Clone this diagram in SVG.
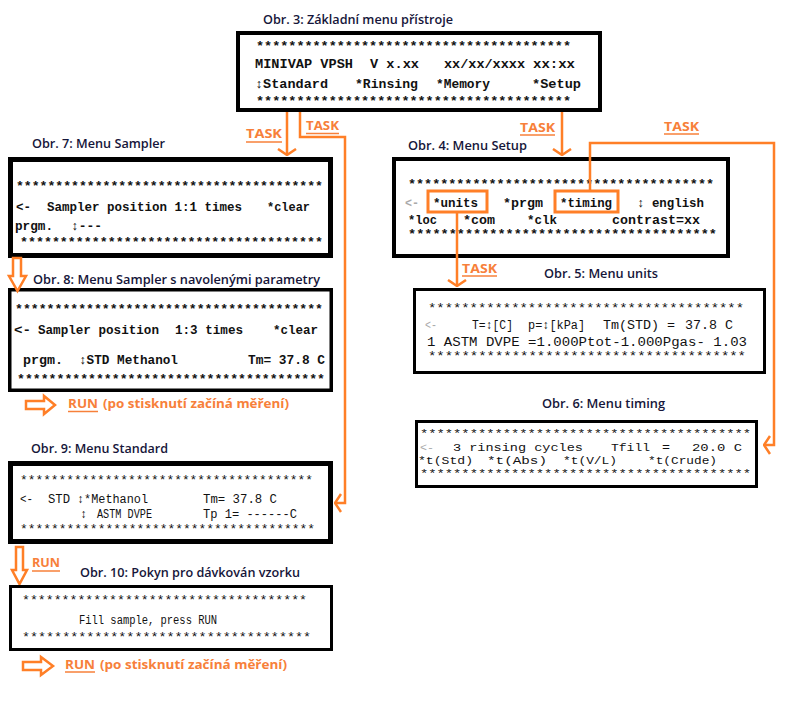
<svg xmlns="http://www.w3.org/2000/svg" width="790" height="701" viewBox="0 0 790 701">
<style>
.bg{fill:#fff}
.box{fill:#fff;stroke:#000}
.ttl{font-family:"Open Sans","Noto Sans",sans-serif;font-size:13px;font-weight:600;fill:#16163a}
.mb{font-family:"Liberation Mono","DejaVu Sans Mono",monospace;font-size:12.5px;font-weight:bold;fill:#111}
.mr{font-family:"Liberation Mono","DejaVu Sans Mono",monospace;font-size:12px;fill:#111}
.sm{font-size:11px}
.faint{fill:#aaa}
.ol{fill:none;stroke:#ff7f27;stroke-width:2.5}
.ob{fill:none;stroke:#ff7f27;stroke-width:3}
.hol{fill:#fff;stroke:#ff7f27;stroke-width:2.5;stroke-linejoin:miter}
.ot{font-family:"Open Sans","Noto Sans",sans-serif;font-size:13px;font-weight:bold;fill:#f7803a}
.ul{stroke:#f7803a;stroke-width:1.5}
</style>
<defs>
<marker id="v" viewBox="-7 -11 8 22" refX="0" refY="0" markerWidth="8" markerHeight="22" markerUnits="userSpaceOnUse" orient="auto">
<path d="M-6,-9 L0,0 L-6,9" fill="none" stroke="#ff7f27" stroke-width="2.5"/>
</marker>
</defs>
<rect class="bg" width="790" height="701"/>

<g id="obr3">
<text class="ttl" x="263" y="24" textLength="190" lengthAdjust="spacingAndGlyphs">Obr. 3: Základní menu přístroje</text>
<rect class="box" x="238" y="33" width="362" height="77" stroke-width="4"/>
<text class="mb" font-size="13" x="256" y="50" textLength="315" lengthAdjust="spacingAndGlyphs">***************************************</text>
<text class="mb" font-size="13" x="255" y="68" textLength="98" lengthAdjust="spacingAndGlyphs">MINIVAP VPSH</text>
<text class="mb" font-size="13" x="370" y="68" textLength="49" lengthAdjust="spacingAndGlyphs">V x.xx</text>
<text class="mb" font-size="13" x="444" y="68" textLength="81" lengthAdjust="spacingAndGlyphs">xx/xx/xxxx</text>
<text class="mb" font-size="13" x="533" y="68" textLength="42" lengthAdjust="spacingAndGlyphs">xx:xx</text>
<text class="mb" font-size="13" x="255" y="88" textLength="73" lengthAdjust="spacingAndGlyphs">↕Standard</text>
<text class="mb" font-size="13" x="355" y="88" textLength="63" lengthAdjust="spacingAndGlyphs">*Rinsing</text>
<text class="mb" font-size="13" x="436" y="88" textLength="54" lengthAdjust="spacingAndGlyphs">*Memory</text>
<text class="mb" font-size="13" x="532" y="88" textLength="49" lengthAdjust="spacingAndGlyphs">*Setup</text>
<text class="mb" font-size="13" x="256" y="105" textLength="315" lengthAdjust="spacingAndGlyphs">***************************************</text>
</g>

<g id="obr7">
<text class="ttl" x="32" y="148" textLength="133" lengthAdjust="spacingAndGlyphs">Obr. 7: Menu Sampler</text>
<rect class="box" x="10.5" y="159.5" width="320" height="96" stroke-width="5"/>
<text class="mb" x="16" y="190" textLength="307" lengthAdjust="spacingAndGlyphs">***************************************</text>
<text class="mb" x="16" y="211" textLength="15" lengthAdjust="spacingAndGlyphs">&lt;-</text>
<text class="mb" x="47" y="211" textLength="195" lengthAdjust="spacingAndGlyphs">Sampler position 1:1 times</text>
<text class="mb" x="267" y="211" textLength="43" lengthAdjust="spacingAndGlyphs">*clear</text>
<text class="mb" x="15" y="230" textLength="38" lengthAdjust="spacingAndGlyphs">prgm.</text>
<text class="mb" x="71" y="230" textLength="31" lengthAdjust="spacingAndGlyphs">↕---</text>
<text class="mb" x="20" y="246" textLength="303" lengthAdjust="spacingAndGlyphs">**************************************</text>
</g>

<g id="obr4">
<text class="ttl" x="408" y="150" textLength="119" lengthAdjust="spacingAndGlyphs">Obr. 4: Menu Setup</text>
<rect class="box" x="394" y="159" width="334" height="97" stroke-width="4"/>
<text class="mb" x="408" y="188" textLength="306" lengthAdjust="spacingAndGlyphs">**************************************</text>
<text class="mb faint" x="405" y="207" textLength="14" lengthAdjust="spacingAndGlyphs">&lt;-</text>
<text class="mb" x="433" y="207" textLength="45" lengthAdjust="spacingAndGlyphs">*units</text>
<text class="mb" x="503" y="207" textLength="40" lengthAdjust="spacingAndGlyphs">*prgm</text>
<text class="mb" x="560" y="207" textLength="52" lengthAdjust="spacingAndGlyphs">*timing</text>
<text class="mb" x="637" y="207" textLength="67" lengthAdjust="spacingAndGlyphs">↕ english</text>
<text class="mb" x="408" y="224" textLength="29" lengthAdjust="spacingAndGlyphs">*loc</text>
<text class="mb" x="463" y="224" textLength="32" lengthAdjust="spacingAndGlyphs">*com</text>
<text class="mb" x="527" y="224" textLength="30" lengthAdjust="spacingAndGlyphs">*clk</text>
<text class="mb" x="612" y="224" textLength="88" lengthAdjust="spacingAndGlyphs">contrast=xx</text>
<text class="mb" x="408" y="238" textLength="309" lengthAdjust="spacingAndGlyphs">**************************************</text>
<rect class="ob" x="428" y="191" width="59" height="21"/>
<rect class="ob" x="555" y="191" width="63" height="21"/>
</g>

<g id="obr8">
<text class="ttl" x="33" y="284" textLength="287" lengthAdjust="spacingAndGlyphs">Obr. 8: Menu Sampler  s navolenými parametry</text>
<rect class="box" x="9.75" y="289.75" width="321.5" height="100.5" stroke-width="3.5"/>
<text class="mb" x="15" y="313" textLength="308" lengthAdjust="spacingAndGlyphs">***************************************</text>
<text class="mb" x="14" y="334" textLength="17" lengthAdjust="spacingAndGlyphs">&lt;-</text>
<text class="mb" x="38" y="334" textLength="121" lengthAdjust="spacingAndGlyphs">Sampler position</text>
<text class="mb" x="175" y="334" textLength="68" lengthAdjust="spacingAndGlyphs">1:3 times</text>
<text class="mb" x="273" y="334" textLength="45" lengthAdjust="spacingAndGlyphs">*clear</text>
<text class="mb" x="23" y="364" textLength="40" lengthAdjust="spacingAndGlyphs">prgm.</text>
<text class="mb" x="79" y="364" textLength="99" lengthAdjust="spacingAndGlyphs">↕STD Methanol</text>
<text class="mb" x="248" y="364" textLength="77" lengthAdjust="spacingAndGlyphs">Tm= 37.8 C</text>
<text class="mb" x="17" y="383" textLength="308" lengthAdjust="spacingAndGlyphs">***************************************</text>
</g>

<g id="run8">
<polygon class="hol" points="26,401 44,401 44,396 55,405 44,414 44,409 26,409"/>
<text class="ot" x="68" y="408" textLength="30" lengthAdjust="spacingAndGlyphs">RUN</text>
<line class="ul" x1="68" y1="411.5" x2="98" y2="411.5"/>
<text class="ot" x="103" y="408" textLength="186" lengthAdjust="spacingAndGlyphs">(po stisknutí začíná měření)</text>
</g>

<g id="obr5">
<text class="ttl" x="544" y="278" textLength="114" lengthAdjust="spacingAndGlyphs">Obr. 5: Menu units</text>
<rect class="box" x="414.5" y="289.5" width="350" height="83" stroke-width="3"/>
<text class="mr" x="428" y="312" textLength="316" lengthAdjust="spacingAndGlyphs">**************************************</text>
<text class="mr faint" x="425" y="329" textLength="12" lengthAdjust="spacingAndGlyphs">&lt;-</text>
<text class="mr" x="472" y="329" textLength="41" lengthAdjust="spacingAndGlyphs">T=↕[C]</text>
<text class="mr" x="528" y="329" textLength="57" lengthAdjust="spacingAndGlyphs">p=↕[kPa]</text>
<text class="mr" x="603" y="329" textLength="72" lengthAdjust="spacingAndGlyphs">Tm(STD) =</text>
<text class="mr" x="685" y="329" textLength="48" lengthAdjust="spacingAndGlyphs">37.8 C</text>
<text class="mr" x="427" y="346" textLength="320" lengthAdjust="spacingAndGlyphs">1 ASTM DVPE =1.000Ptot-1.000Pgas-  1.03</text>
<text class="mr" x="428" y="360" textLength="318" lengthAdjust="spacingAndGlyphs">**************************************</text>
</g>

<g id="obr6">
<text class="ttl" x="542" y="408" textLength="123" lengthAdjust="spacingAndGlyphs">Obr. 6: Menu timing</text>
<rect class="box" x="416.5" y="421.5" width="340" height="65" stroke-width="3"/>
<text class="mr sm" x="420" y="437" textLength="331" lengthAdjust="spacingAndGlyphs">****************************************</text>
<text class="mr sm faint" x="420" y="451" textLength="14" lengthAdjust="spacingAndGlyphs">&lt;-</text>
<text class="mr sm" x="453" y="451" textLength="130" lengthAdjust="spacingAndGlyphs">3 rinsing cycles</text>
<text class="mr sm" x="611" y="451" textLength="39" lengthAdjust="spacingAndGlyphs">Tfill</text>
<text class="mr sm" x="662" y="451" textLength="8" lengthAdjust="spacingAndGlyphs">=</text>
<text class="mr sm" x="692" y="451" textLength="50" lengthAdjust="spacingAndGlyphs">20.0 C</text>
<text class="mr sm" x="418" y="464" textLength="55" lengthAdjust="spacingAndGlyphs">*t(Std)</text>
<text class="mr sm" x="487" y="464" textLength="60" lengthAdjust="spacingAndGlyphs">*t(Abs)</text>
<text class="mr sm" x="563" y="464" textLength="54" lengthAdjust="spacingAndGlyphs">*t(V/L)</text>
<text class="mr sm" x="648" y="464" textLength="69" lengthAdjust="spacingAndGlyphs">*t(Crude)</text>
<text class="mr sm" x="420" y="477" textLength="331" lengthAdjust="spacingAndGlyphs">****************************************</text>
</g>

<g id="obr9">
<text class="ttl" x="31" y="453" textLength="137" lengthAdjust="spacingAndGlyphs">Obr. 9: Menu Standard</text>
<rect class="box" x="10.5" y="463.5" width="320" height="78" stroke-width="5"/>
<text class="mr" x="20" y="484" textLength="293" lengthAdjust="spacingAndGlyphs">**************************************</text>
<text class="mr" x="20" y="503" textLength="13" lengthAdjust="spacingAndGlyphs">&lt;-</text>
<text class="mr" x="48" y="503" textLength="22" lengthAdjust="spacingAndGlyphs">STD</text>
<text class="mr" x="77" y="503" textLength="71" lengthAdjust="spacingAndGlyphs">↕*Methanol</text>
<text class="mr" x="203" y="503" textLength="74" lengthAdjust="spacingAndGlyphs">Tm= 37.8 C</text>
<text class="mr" x="80" y="518">↕</text>
<text class="mr" x="97" y="518" textLength="55" lengthAdjust="spacingAndGlyphs">ASTM DVPE</text>
<text class="mr" x="203" y="518" textLength="94" lengthAdjust="spacingAndGlyphs">Tp 1= ------C</text>
<text class="mr" x="20" y="533" textLength="295" lengthAdjust="spacingAndGlyphs">**************************************</text>
</g>

<g id="run9">
<polygon class="hol" points="16,547 23,547 23,570 27,570 19.5,584 12,570 16,570"/>
<text class="ot" x="32" y="567" textLength="28" lengthAdjust="spacingAndGlyphs">RUN</text>
<line class="ul" x1="32" y1="571" x2="60" y2="571"/>
</g>

<g id="obr10">
<text class="ttl" x="80" y="577" textLength="220" lengthAdjust="spacingAndGlyphs">Obr. 10: Pokyn pro dávkován vzorku</text>
<rect class="box" x="10.5" y="586.5" width="321" height="63" stroke-width="3"/>
<text class="mr" x="22" y="604" textLength="285" lengthAdjust="spacingAndGlyphs">************************************</text>
<text class="mr" x="79" y="624" textLength="138" lengthAdjust="spacingAndGlyphs">Fill sample, press RUN</text>
<text class="mr" x="22" y="641" textLength="289" lengthAdjust="spacingAndGlyphs">************************************</text>
</g>

<g id="run10">
<polygon class="hol" points="23,662 41,662 41,657 53,666 41,675 41,670 23,670"/>
<text class="ot" x="65" y="669" textLength="30" lengthAdjust="spacingAndGlyphs">RUN</text>
<line class="ul" x1="65" y1="672" x2="95" y2="672"/>
<text class="ot" x="100" y="669" textLength="187" lengthAdjust="spacingAndGlyphs">(po stisknutí začíná měření)</text>
</g>

<g id="obr7arrow">
<polygon class="hol" points="13,258 21,258 21,276 26,276 17.5,291 9,276 13,276"/>
</g>

<g id="connectors">
<path class="ol" d="M287,112 V155" marker-end="url(#v)"/>
<path class="ol" d="M300,112 V137 H345 V503 H335" marker-end="url(#v)"/>
<path class="ol" d="M562,112 V155" marker-end="url(#v)"/>
<path class="ol" d="M590,191 V143 H774 V445 H764" marker-end="url(#v)"/>
<path class="ol" d="M457,212 V286" marker-end="url(#v)"/>
<text class="ot" x="246" y="138" textLength="36" lengthAdjust="spacingAndGlyphs">TASK</text>
<line class="ul" x1="246" y1="142" x2="282" y2="142"/>
<text class="ot" x="306" y="130" textLength="33" lengthAdjust="spacingAndGlyphs">TASK</text>
<line class="ul" x1="306" y1="133.5" x2="339" y2="133.5"/>
<text class="ot" x="520" y="132" textLength="35" lengthAdjust="spacingAndGlyphs">TASK</text>
<line class="ul" x1="520" y1="135" x2="555" y2="135"/>
<text class="ot" x="664" y="131" textLength="35" lengthAdjust="spacingAndGlyphs">TASK</text>
<line class="ul" x1="664" y1="134" x2="699" y2="134"/>
<text class="ot" x="462" y="273" textLength="35" lengthAdjust="spacingAndGlyphs">TASK</text>
<line class="ul" x1="462" y1="276" x2="497" y2="276"/>
</g>
</svg>
